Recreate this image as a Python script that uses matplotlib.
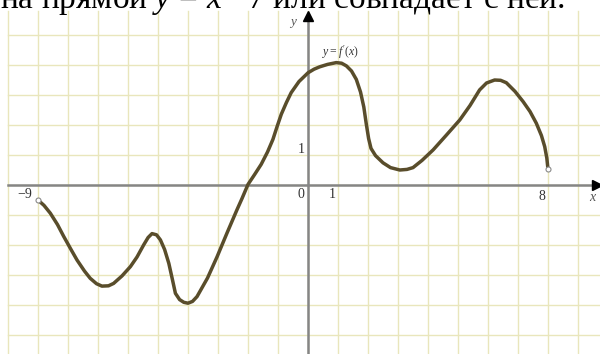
import matplotlib
matplotlib.use("Agg")
import matplotlib.pyplot as plt

# ---- curve: y = f'(x) on [-9, 8] ----
curve_x = [-9.0, -8.8, -8.59, -8.35, -8.14, -7.9, -7.7, -7.45, -7.26, -7.05,
           -6.87, -6.65, -6.48, -6.2, -5.92, -5.7, -5.48, -5.33, -5.2, -5.05,
           -4.92, -4.78, -4.64, -4.52, -4.42, -4.28, -4.14, -4.0, -3.85, -3.7,
           -3.35, -3.03, -2.7, -2.37, -2.2, -2.0, -1.78, -1.56, -1.35, -1.17,
           -1.03, -0.89, -0.72, -0.56, -0.3, 0.0, 0.2, 0.39, 0.65, 0.94,
           1.12, 1.28, 1.45, 1.61, 1.75, 1.86, 1.94, 2.02, 2.1, 2.25,
           2.5, 2.75, 3.06, 3.3, 3.5, 3.8, 4.17, 4.6, 5.06, 5.4,
           5.72, 5.95, 6.22, 6.42, 6.61, 6.9, 7.17, 7.4, 7.61, 7.78,
           7.89, 7.96, 8.0]
curve_y = [-0.50, -0.68, -0.94, -1.32, -1.72, -2.15, -2.50, -2.87, -3.11, -3.29,
           -3.37, -3.36, -3.28, -3.03, -2.72, -2.40, -2.00, -1.75, -1.62, -1.66,
           -1.83, -2.15, -2.61, -3.15, -3.61, -3.82, -3.91, -3.94, -3.88, -3.72,
           -3.10, -2.39, -1.60, -0.83, -0.45, 0.02, 0.35, 0.69, 1.10, 1.52,
           1.95, 2.36, 2.75, 3.08, 3.45, 3.74, 3.86, 3.94, 4.02, 4.08,
           4.06, 3.97, 3.80, 3.52, 3.10, 2.60, 2.05, 1.55, 1.22, 0.98,
           0.74, 0.58, 0.50, 0.52, 0.58, 0.82, 1.17, 1.65, 2.17, 2.65,
           3.17, 3.40, 3.50, 3.49, 3.41, 3.12, 2.78, 2.45, 2.06, 1.65,
           1.28, 0.90, 0.52]

# open end points
end_x = [-9.0, 8.0]
end_y = [-0.50, 0.52]

# tick labels on the axes
tick_labels = ["\u22129", "0", "1", "8"]
tick_label_x = [-9.45, -0.25, 0.82, 7.8]
tick_label_y = [-0.30, -0.33, -0.33, -0.38]

header = r"на прямой $y\,{=}\,x\,{-}\,7$ или совпадает с ней."

plt.rcParams["mathtext.fontset"] = "custom"
plt.rcParams["mathtext.rm"] = "Liberation Serif"
plt.rcParams["mathtext.it"] = "Liberation Serif:italic"
plt.rcParams["font.family"] = "Liberation Serif"

fig = plt.figure(figsize=(6, 3.54), dpi=100)
ax = fig.add_axes([0, 0, 1, 1])
ax.set_xlim(-10.267, 9.733)
ax.set_ylim(-5.633, 6.167)
ax.axis("off")

# grid paper
grid_color = "#e9e6bc"
top = 5.8
for gx in range(-10, 10):
    ax.plot([gx, gx], [-5.7, top], color=grid_color, lw=1.0, zorder=1)
for gy in range(-5, 6):
    ax.plot([-10, 9.8], [gy, gy], color=grid_color, lw=1.0, zorder=1)

# axes with arrows
axis_color = "#858585"
ax.plot([-10, 9.6], [0, 0], color=axis_color, lw=1.8, zorder=2)
ax.plot([0, 0], [-5.7, 5.6], color=axis_color, lw=1.8, zorder=2)
ax.plot([9.62], [0], marker=">", color="black", markersize=7, zorder=3)
ax.plot([0], [5.65], marker="^", color="black", markersize=7, zorder=3)

# the curve
ax.plot(curve_x, curve_y, color="#594d2b", lw=2.5, solid_capstyle="round",
        solid_joinstyle="round", zorder=4)
ax.plot(end_x, end_y, "o", markersize=3.6, markerfacecolor="white",
        markeredgecolor="#8a8a8a", markeredgewidth=0.8, zorder=5)

# labels
for lab, lx, ly in zip(tick_labels, tick_label_x, tick_label_y):
    ax.text(lx, ly, lab, fontsize=10, color="#333333", ha="center", va="center")
ax.text(-0.22, 1.2, "1", fontsize=10, color="#333333", ha="center", va="center")
ax.text(9.52, -0.42, "$x$", fontsize=10, color="#555555", ha="center", va="center")
ax.text(-0.5, 5.4, "$y$", fontsize=9.5, color="#555555", ha="center", va="center")
ax.text(1.07, 4.42, "$y = f'(x)$", fontsize=8.5, color="#333333",
        ha="center", va="center")

# clipped line of text above the picture
fig.text(0.0, 1 - 8 / 354, header, fontsize=24, color="black",
         ha="left", va="baseline")

fig.savefig("out.png", dpi=100)
